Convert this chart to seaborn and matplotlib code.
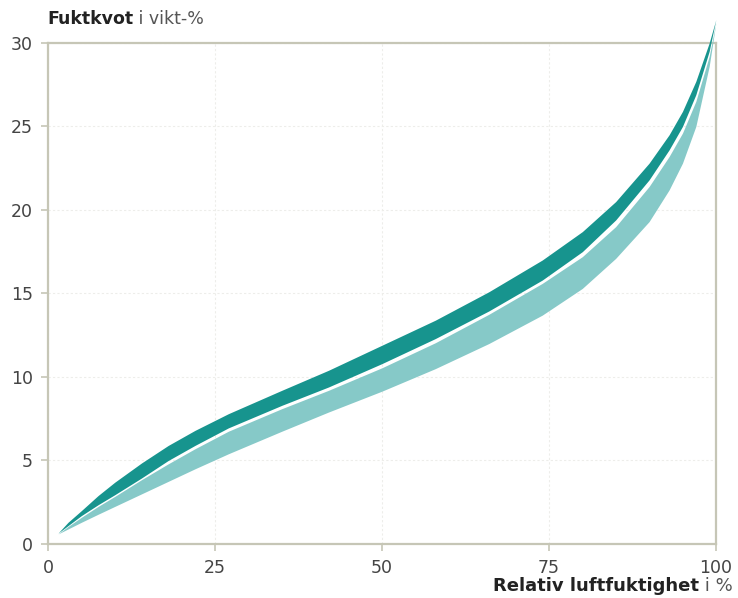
import matplotlib
matplotlib.use("Agg")
import matplotlib.pyplot as plt
import seaborn as sns

# relative humidity (%)
rh = [1.5, 3, 5, 7.5, 10, 14, 18, 22, 27, 35, 42, 50, 58, 66, 74, 80, 85, 90, 93, 95, 97, 99, 100]

# dark band (desorption) upper / lower edge, moisture ratio in weight-%
dark_hi = [0.65, 1.3, 2.0, 2.9, 3.7, 4.85, 5.9, 6.8, 7.8, 9.2, 10.4, 11.9, 13.4, 15.1, 17.0, 18.7, 20.5, 22.8, 24.5, 25.9, 27.7, 30.0, 31.4]
dark_lo = [0.65, 1.1, 1.7, 2.35, 2.95, 3.95, 5.0, 5.9, 6.95, 8.3, 9.4, 10.8, 12.3, 13.95, 15.8, 17.5, 19.4, 21.8, 23.6, 25.0, 26.9, 29.5, 31.4]

# light band (absorption) upper / lower edge
light_hi = [0.6, 1.05, 1.6, 2.25, 2.85, 3.85, 4.8, 5.7, 6.75, 8.1, 9.2, 10.55, 12.05, 13.75, 15.6, 17.2, 19.0, 21.4, 23.2, 24.6, 26.5, 29.2, 31.2]
light_lo = [0.6, 0.9, 1.3, 1.78, 2.25, 3.0, 3.75, 4.5, 5.4, 6.75, 7.9, 9.15, 10.5, 12.0, 13.7, 15.3, 17.1, 19.3, 21.2, 22.8, 25.0, 28.6, 31.2]

x_ticks = [0, 25, 50, 75, 100]
y_ticks = [0, 5, 10, 15, 20, 25, 30]

sns.set_theme(style="white")
plt.rcParams["font.family"] = ["DejaVu Sans"]

fig = plt.figure(figsize=(7.38, 5.98), dpi=100)
ax = fig.add_axes([0.065, 0.0903, 0.905, 0.838])

dark = "#17948e"
light = "#86c9c8"
frame = "#c6c6b6"

ax.fill_between(rh, light_lo, light_hi, color=light, linewidth=0, clip_on=False, zorder=3)
ax.fill_between(rh, dark_lo, dark_hi, color=dark, linewidth=0, clip_on=False, zorder=3)

ax.set_xlim(0, 100)
ax.set_ylim(0, 30)
ax.set_xticks(x_ticks)
ax.set_yticks(y_ticks)
ax.grid(True, color="#ededea", linestyle=(0, (2, 2)), linewidth=0.8)
ax.set_axisbelow(True)
for s in ax.spines.values():
    s.set_color(frame)
    s.set_linewidth(1.6)
ax.tick_params(axis="both", which="major", direction="out", length=5, width=1.2,
               color=frame, labelsize=12.5, labelcolor="#444444", pad=6,
               bottom=True, left=True)

# y-axis title: bold part then normal part
t1 = fig.text(0.064, 0.969, "Fuktkvot", fontsize=12.5, fontweight="bold",
              color="#222222", ha="left", va="center")
ax.annotate(" i vikt-%", xy=(1, 0.5), xycoords=t1, fontsize=12.5, color="#555555",
            ha="left", va="center", annotation_clip=False)

# x-axis title, right aligned at the figure edge
t2 = fig.text(0.993, 0.011, " i %", fontsize=13, color="#555555", ha="right", va="baseline")
ax.annotate("Relativ luftfuktighet", xy=(0, 0), xycoords=t2, fontsize=13, fontweight="bold",
            color="#222222", ha="right", va="bottom", annotation_clip=False)

fig.savefig("out.png", dpi=100)
plt.close(fig)
